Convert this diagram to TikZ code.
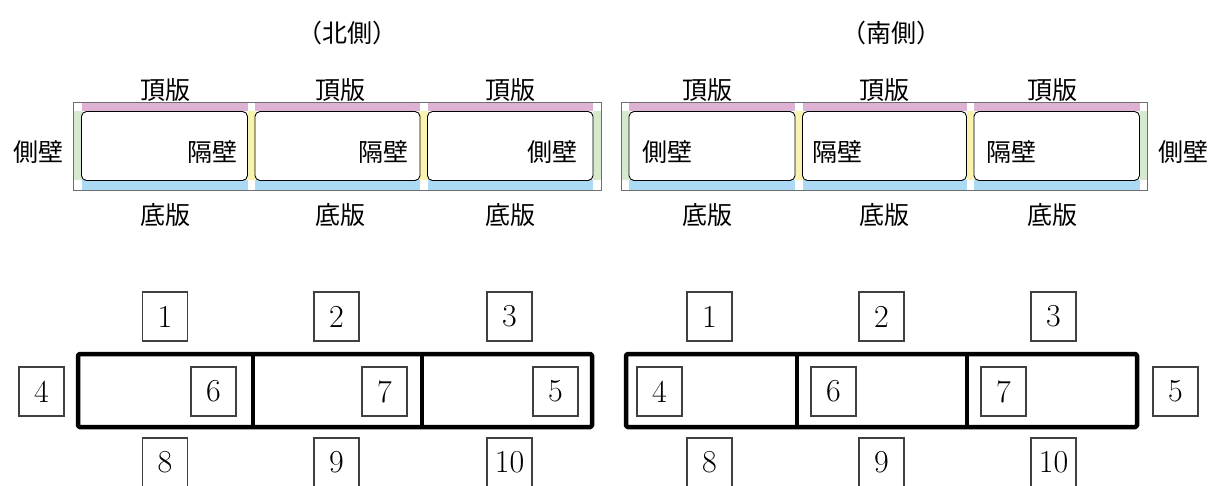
\documentclass[tikz,border=0pt]{standalone}
\usepackage{fontspec}
\newfontfamily\jp{Noto Sans CJK JP}
\definecolor{pinkc}{RGB}{222,178,210}
\definecolor{bluec}{RGB}{172,218,244}
\definecolor{greenc}{RGB}{214,232,206}
\definecolor{yellowc}{RGB}{248,244,176}
\definecolor{framec}{RGB}{110,110,110}
\tikzset{
  jplabel/.style={inner sep=0pt, font=\jp\fontsize{25}{27}\selectfont},
  numbox/.style={draw=black!75, line width=1.2pt, minimum width=45pt, minimum height=49pt, inner sep=0pt, font=\fontsize{32}{34}\selectfont},
  cellbox/.style={draw=black, line width=0.9pt, rounded corners=5pt},
  outerframe/.style={draw=framec, line width=1pt},
  thickframe/.style={draw=black, line width=4.5pt, line join=round, rounded corners=1.5pt},
  divider/.style={draw=black, line width=4.5pt}
}
\begin{document}
\begin{tikzpicture}[x=1pt,y=-1pt]
\useasboundingbox (0,0) rectangle (1226,486);
\clip (0,0) rectangle (1226,486);
% ---------- headers ----------
\node[jplabel] (hn) at (347,33) {（北側）};
\node[jplabel] (hs) at (891,33) {（南側）};
% ---------- north top panel ----------
\foreach \a/\b in {81.5/247.5, 255/420, 427.5/593}{
  \fill[pinkc] (\a,103.5) rectangle (\b,111.5);
  \fill[bluec] (\a,180.5) rectangle (\b,190.5);
}
\fill[greenc] (73.5,111.5) rectangle (81.5,180.5);
\fill[greenc] (593,111.5) rectangle (600.5,180.5);
\fill[yellowc] (247.5,111.5) rectangle (255,180.5);
\fill[yellowc] (420,111.5) rectangle (427.5,180.5);
\draw[outerframe] (73,103) rectangle (601,191);
\foreach \a/\b in {81.5/247.5, 255/420, 427.5/593}{
  \draw[cellbox] (\a,111.5) rectangle (\b,180.5);
}
% ---------- south top panel ----------
\foreach \a/\b in {629/795, 802.5/966.5, 974/1139.5}{
  \fill[pinkc] (\a,103.5) rectangle (\b,111.5);
  \fill[bluec] (\a,180.5) rectangle (\b,190.5);
}
\fill[greenc] (621.5,111.5) rectangle (629,180.5);
\fill[greenc] (1139.5,111.5) rectangle (1146.5,180.5);
\fill[yellowc] (795,111.5) rectangle (802.5,180.5);
\fill[yellowc] (966.5,111.5) rectangle (974,180.5);
\draw[outerframe] (621,103) rectangle (1147,191);
\foreach \a/\b in {629/795, 802.5/966.5, 974/1139.5}{
  \draw[cellbox] (\a,111.5) rectangle (\b,180.5);
}
% ---------- top panel labels ----------
\node[jplabel] (tn1) at (165,90) {頂版};
\node[jplabel] (tn2) at (340,90) {頂版};
\node[jplabel] (tn3) at (510,90) {頂版};
\node[jplabel] (ts1) at (707,90) {頂版};
\node[jplabel] (ts2) at (884,90) {頂版};
\node[jplabel] (ts3) at (1052,90) {頂版};
\node[jplabel] (bn1) at (165,215) {底版};
\node[jplabel] (bn2) at (340,215) {底版};
\node[jplabel] (bn3) at (510,215) {底版};
\node[jplabel] (bs1) at (707,215) {底版};
\node[jplabel] (bs2) at (884,215) {底版};
\node[jplabel] (bs3) at (1052,215) {底版};
\node[jplabel] (sl) at (38,152) {側壁};
\node[jplabel] (sr) at (1183,152) {側壁};
\node[jplabel, anchor=east] (in1) at (238,152) {隔壁};
\node[jplabel, anchor=east] (in2) at (409,152) {隔壁};
\node[jplabel, anchor=east] (in3) at (578,152) {側壁};
\node[jplabel, anchor=west] (is1) at (642,152) {側壁};
\node[jplabel, anchor=west] (is2) at (812,152) {隔壁};
\node[jplabel, anchor=west] (is3) at (986,152) {隔壁};
% ---------- bottom frames ----------
\draw[thickframe] (78,354) rectangle (592,427);
\draw[divider] (253,354) -- (253,427);
\draw[divider] (422,354) -- (422,427);
\draw[thickframe] (626,354) rectangle (1137,427);
\draw[divider] (797,354) -- (797,427);
\draw[divider] (967,354) -- (967,427);
% ---------- numbered boxes, north ----------
\node[numbox] (n1) at (165,316.5) {1};
\node[numbox] (n2) at (336.5,316.5) {2};
\node[numbox] (n3) at (509.5,316.5) {3};
\node[numbox] (n4) at (41.5,391.5) {4};
\node[numbox] (n6) at (213.5,391.5) {6};
\node[numbox] (n7) at (384.5,391.5) {7};
\node[numbox] (n5) at (555.5,391.5) {5};
\node[numbox] (n8) at (165,462.5) {8};
\node[numbox] (n9) at (336.5,462.5) {9};
\node[numbox] (n10) at (509.5,462.5) {10};
% ---------- numbered boxes, south ----------
\node[numbox] (s1) at (709.5,316.5) {1};
\node[numbox] (s2) at (881.5,316.5) {2};
\node[numbox] (s3) at (1053.5,316.5) {3};
\node[numbox] (s4) at (659.5,391.5) {4};
\node[numbox] (s6) at (833.5,391.5) {6};
\node[numbox] (s7) at (1003.5,391.5) {7};
\node[numbox] (s5) at (1175.5,391.5) {5};
\node[numbox] (s8) at (709.5,462.5) {8};
\node[numbox] (s9) at (881.5,462.5) {9};
\node[numbox] (s10) at (1053.5,462.5) {10};
\end{tikzpicture}
\end{document}
